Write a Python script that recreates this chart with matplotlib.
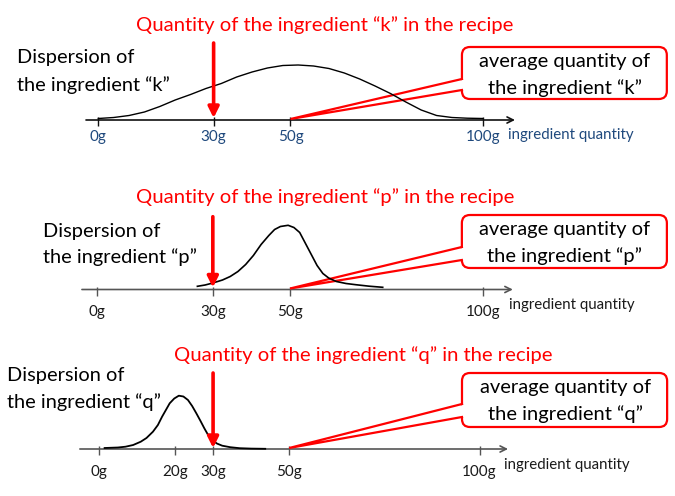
import matplotlib
matplotlib.use("Agg")
import matplotlib.pyplot as plt
from matplotlib.patches import FancyBboxPatch, Polygon

plt.rcParams['font.family'] = ['Lato', 'DejaVu Sans']

# ---------------- data ----------------
ingredients = ["k", "p", "q"]
recipe_qty = [30, 30, 30]
average_qty = [50, 50, 50]

k_x = [0, 4, 8, 12, 16, 20, 24, 28, 32, 36, 40, 44, 48, 52, 56, 60, 64, 68, 72, 76, 80, 84, 88, 92, 96, 100]
k_h = [1.5, 2.5, 4.5, 8, 13.5, 20, 25.5, 31.5, 36.5, 43, 48, 52, 54.5, 55, 54, 51.5, 47, 41, 34, 26.5, 18, 10, 4.5, 2.5, 1.8, 1.5]

p_x = [26, 28, 30, 32.5, 34.5, 36.5, 38.5, 40.5, 42.5, 44.5, 46, 47.5, 49.5, 51, 52.5, 54, 55.5, 57, 58.5, 60, 62, 64.5, 67, 70.5, 74]
p_h = [3.2, 4.5, 6.5, 9.5, 13, 18, 25, 34, 45, 54, 60, 63, 64.2, 62, 57, 46, 35, 24, 16, 11.5, 8, 6, 4.8, 3.3, 2.2]

q_x = [1.5, 5, 7, 9, 11, 12.5, 14.2, 15.5, 16.6, 17.6, 18.6, 19.8, 21, 22.2, 23.4, 24.5, 25.6, 26.7, 27.7, 28.7, 29.7, 31, 32.4, 34.5, 37, 40, 43.7]
q_h = [1, 1.5, 2.3, 4, 7.3, 11, 17.3, 24, 32.3, 39, 45.7, 50.5, 53.3, 52.5, 49, 43, 35.7, 28, 20.7, 14, 9, 5.5, 3.3, 1.8, 0.8, 0.4, 0.2]

k_ticks = [0, 30, 50, 100]
p_ticks = [0, 30, 50, 100]
q_ticks = [0, 20, 30, 50, 100]
k_ticklabels = ["0g", "30g", "50g", "100g"]
p_ticklabels = ["0g", "30g", "50g", "100g"]
q_ticklabels = ["0g", "20g", "30g", "50g", "100g"]

axis_label = "ingredient quantity"

curves = [(k_x, k_h), (p_x, p_h), (q_x, q_h)]
ticks = [k_ticks, p_ticks, q_ticks]
ticklabels = [k_ticklabels, p_ticklabels, q_ticklabels]

# ---------------- layout ----------------
W, H = 675, 496
fig = plt.figure(figsize=(W / 100, H / 100), dpi=100)

layout = [
    dict(rows=(0, 165), axis_row=120, b=98.3, a=3.844,
         axis_x=(-3.2, 108.4), title=(59.0, 95), disp=(-21.2, 62, 35),
         box=(94.6, 147.9, 21, 73), attach=(41, 30), boxtext=(121.4, 58, 32),
         arrow=(77, 2), tl_y=-16.7, al=(106.6, -14.5),
         tick_color='#1F497D', axis_color='#111111', curve_lw=1.0),
    dict(rows=(165, 330), axis_row=289.5, b=97.0, a=3.861,
         axis_x=(-3.9, 107.7), title=(59.2, 92.8), disp=(-14.0, 58.5, 32.5),
         box=(94.5, 147.6, 21.5, 74.5), attach=(42.5, 29.5), boxtext=(121.2, 59.5, 33.5),
         arrow=(72.8, 2), tl_y=-22.2, al=(106.7, -15.5),
         tick_color='#1a1a1a', axis_color='#555555', curve_lw=1.2),
    dict(rows=(330, 496), axis_row=449, b=98.9, a=3.806,
         axis_x=(-5.0, 107.5), title=(69.5, 94), disp=(-24.1, 74, 47),
         box=(95.4, 149.3, 22, 76), attach=(45, 32), boxtext=(122.5, 61, 35),
         arrow=(76, 1), tl_y=-22.7, al=(106.4, -16),
         tick_color='#1a1a1a', axis_color='#555555', curve_lw=1.3),
]

RED = '#FF0000'

for i, L in enumerate(layout):
    r0, r1 = L['rows']
    ax = fig.add_axes([0, (H - r1) / H, 1, (r1 - r0) / H])
    ax.set_xlim(-L['b'] / L['a'], (W - L['b']) / L['a'])
    ax.set_ylim(-(r1 - L['axis_row']), L['axis_row'] - r0)
    ax.axis('off')
    ax.patch.set_alpha(0)
    name = ingredients[i]

    # horizontal axis with arrow
    x0, x1 = L['axis_x']
    ax.annotate('', xy=(x1, 0), xytext=(x0, 0),
                arrowprops=dict(arrowstyle='->', lw=1.2, color=L['axis_color'],
                                mutation_scale=11, shrinkA=0, shrinkB=0))
    ax.vlines(ticks[i], -6, 3, color=L['axis_color'], lw=1.0)
    for t, lab in zip(ticks[i], ticklabels[i]):
        ax.text(t, L['tl_y'], lab, ha='center', va='center', fontsize=11,
                color=L['tick_color'])
    ax.text(L['al'][0], L['al'][1], axis_label, ha='left', va='center',
            fontsize=10.8, color=L['tick_color'])

    # callout box
    bx0, bx1, by0, by1 = L['box']
    box = FancyBboxPatch((bx0, by0), bx1 - bx0, by1 - by0,
                         boxstyle="round,pad=0,rounding_size=2.1",
                         mutation_aspect=L['a'], facecolor='white',
                         edgecolor=RED, lw=1.6, zorder=2)
    ax.add_patch(box)
    ahi, alo = L['attach']
    wedge = Polygon([(bx0 + 1.2, ahi), (average_qty[i], 1), (bx0 + 1.2, alo)],
                    closed=True, facecolor='white', edgecolor='none', zorder=3)
    ax.add_patch(wedge)
    ax.plot([bx0, average_qty[i], bx0], [ahi, 1, alo], color=RED, lw=1.6,
            zorder=4, solid_joinstyle='miter')
    btx, bty1, bty2 = L['boxtext']
    ax.text(btx, bty1, "average quantity of", ha='center', va='center',
            fontsize=14.5, color='black', zorder=6)
    ax.text(btx, bty2, f"the ingredient “{name}”", ha='center', va='center',
            fontsize=14.5, color='black', zorder=6)

    # distribution curve
    cx, ch = curves[i]
    ax.plot(cx, ch, color='black', lw=L['curve_lw'], zorder=5,
            solid_joinstyle='round')

    # dispersion label
    dx, dy1, dy2 = L['disp']
    ax.text(dx, dy1, "Dispersion of", ha='left', va='center', fontsize=14.4,
            color='black', zorder=6)
    ax.text(dx, dy2, f"the ingredient “{name}”", ha='left', va='center',
            fontsize=14.4, color='black', zorder=6)

    # recipe quantity arrow and title
    top, tip = L['arrow']
    ax.annotate('', xy=(recipe_qty[i], tip), xytext=(recipe_qty[i], top),
                arrowprops=dict(arrowstyle='-|>', lw=2.6, color=RED,
                                mutation_scale=16, shrinkA=0, shrinkB=0),
                zorder=7)
    ax.text(L['title'][0], L['title'][1],
            f"Quantity of the ingredient “{name}” in the recipe",
            ha='center', va='center', fontsize=14.6, color=RED, zorder=6)

fig.savefig('out.png', dpi=100)
